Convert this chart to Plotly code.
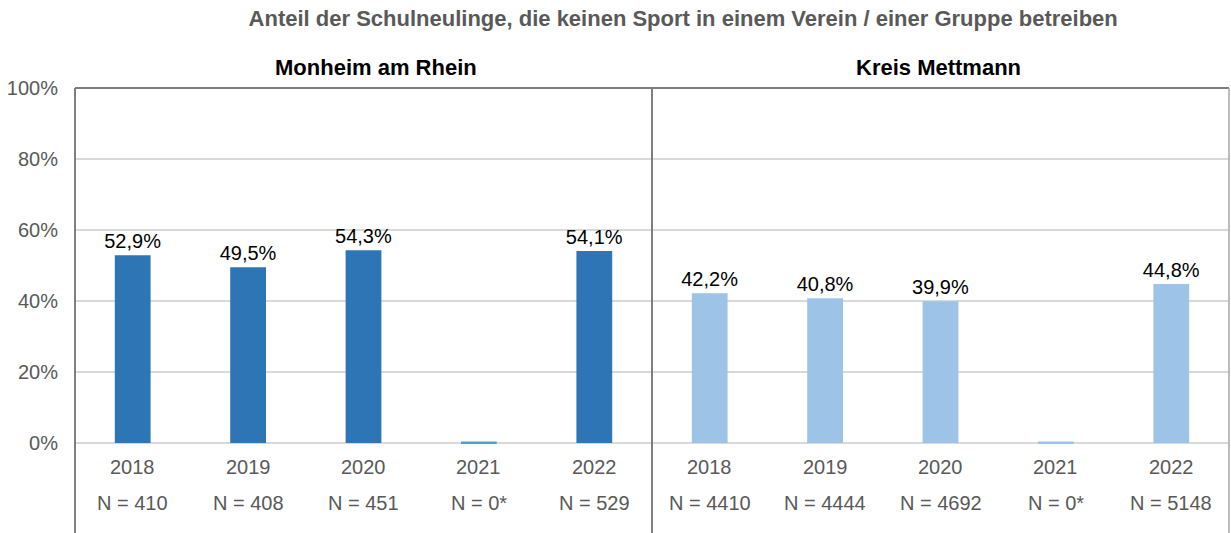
import plotly.graph_objects as go
from plotly.subplots import make_subplots

years = ["2018", "2019", "2020", "2021", "2022"]
monheim_vals = [52.9, 49.5, 54.3, 0.4, 54.1]
monheim_labels = ["52,9%", "49,5%", "54,3%", "", "54,1%"]
monheim_n = ["N = 410", "N = 408", "N = 451", "N = 0*", "N = 529"]
kreis_vals = [42.2, 40.8, 39.9, 0.4, 44.8]
kreis_labels = ["42,2%", "40,8%", "39,9%", "", "44,8%"]
kreis_n = ["N = 4410", "N = 4444", "N = 4692", "N = 0*", "N = 5148"]
panel_titles = ["Monheim am Rhein", "Kreis Mettmann"]
title = "Anteil der Schulneulinge, die keinen Sport in einem Verein / einer Gruppe betreiben"
y_ticks = [0, 20, 40, 60, 80, 100]
y_tick_labels = ["0%", "20%", "40%", "60%", "80%", "100%"]

dark = "#2E75B6"
light = "#9DC3E6"
font_main = "Liberation Sans, Arial, sans-serif"
grey_txt = "#595959"

fig = make_subplots(rows=1, cols=2, shared_yaxes=True, horizontal_spacing=0)

fig.add_trace(go.Bar(x=years, y=monheim_vals, text=monheim_labels,
                     marker=dict(color=[dark, dark, dark, "#5B9BD5", dark], line_width=0),
                     textposition="outside", cliponaxis=False, constraintext="none",
                     textfont=dict(size=20, color="black", family=font_main)), row=1, col=1)
fig.add_trace(go.Bar(x=years, y=kreis_vals, text=kreis_labels,
                     marker=dict(color=light, line_width=0),
                     textposition="outside", cliponaxis=False, constraintext="none",
                     textfont=dict(size=20, color="black", family=font_main)), row=1, col=2)

ann = []
for xr, nlist in [("x", monheim_n), ("x2", kreis_n)]:
    for i, (yv, nt) in enumerate(zip(years, nlist)):
        ann.append(dict(x=i, y=-6.8, xref=xr, yref="y", text=yv, showarrow=False, xanchor="center",
                        font=dict(size=20, color=grey_txt, family=font_main)))
        ann.append(dict(x=i, y=-16.9, xref=xr, yref="y", text=nt, showarrow=False, xanchor="center",
                        font=dict(size=20, color=grey_txt, family=font_main)))

plot_top, plot_h = 88, 445
for xp, pt in zip([0.261, 0.748], panel_titles):
    ann.append(dict(x=xp, y=1 + (plot_top - 68) / plot_h, xref="paper", yref="paper",
                    xanchor="center", yanchor="middle",
                    text="<b>" + pt + "</b>", showarrow=False,
                    font=dict(size=22, color="black", family=font_main)))

fig.update_layout(
    width=1231, height=533,
    margin=dict(l=75, r=2, t=88, b=0),
    plot_bgcolor="white", paper_bgcolor="white",
    showlegend=False,
    bargap=0.69,
    annotations=ann,
    title=dict(text="<b>" + title + "</b>", x=0.555, xanchor="center", y=0.966, yanchor="middle",
               font=dict(size=22, color=grey_txt, family=font_main)),
    shapes=[
        dict(type="line", xref="paper", yref="paper", x0=0, x1=0, y0=0, y1=1, line=dict(color="#7f7f7f", width=2)),
        dict(type="line", xref="paper", yref="paper", x0=0, x1=1, y0=1, y1=1, line=dict(color="#7f7f7f", width=2)),
        dict(type="line", xref="paper", yref="paper", x0=0.5, x1=0.5, y0=0, y1=1, line=dict(color="#7f7f7f", width=2)),
        dict(type="line", xref="paper", yref="paper", x0=1, x1=1, y0=0, y1=1, line=dict(color="#a6a6a6", width=1.5)),
    ],
)
for ax in ["xaxis", "xaxis2"]:
    fig.layout[ax].update(type="category", categoryorder="array", categoryarray=years,
                          range=[-0.5, 4.5], autorange=False,
                          showticklabels=False, showgrid=False, zeroline=False, showline=False, ticks="")
fig.update_yaxes(range=[-25.35, 100], tickmode="array", tickvals=y_ticks, ticktext=y_tick_labels,
                 showgrid=True, gridcolor="#d9d9d9", gridwidth=1.5, zeroline=False, showline=False,
                 automargin=False,
                 tickfont=dict(size=20, color=grey_txt, family=font_main), ticklabelstandoff=16)
fig.layout.yaxis2.update(showticklabels=False)

fig.write_html("out.html", config={"displayModeBar": False},
               post_script="document.body.style.margin='0';document.body.style.overflow='hidden';")
